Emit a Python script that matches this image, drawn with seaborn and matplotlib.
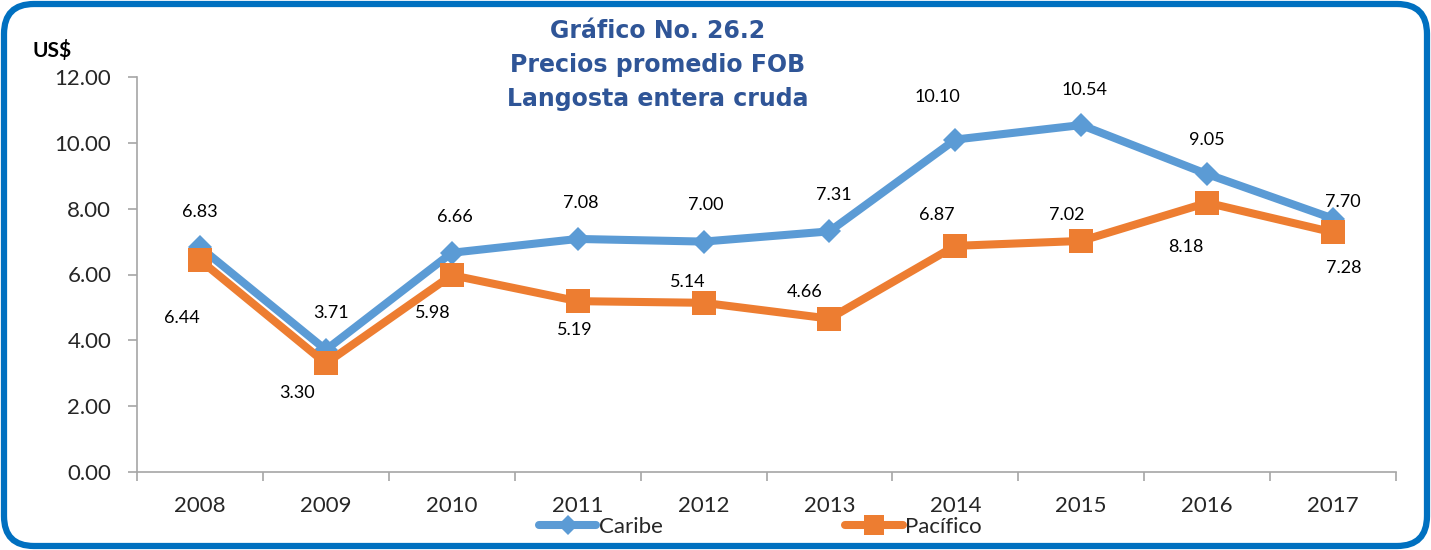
import numpy as np
import pandas as pd

import matplotlib as mpl

mpl.use('Agg')
import matplotlib.pyplot as plt
from matplotlib.patches import FancyBboxPatch
from matplotlib.lines import Line2D
import seaborn as sns

## Data
years = ['2008', '2009', '2010', '2011', '2012', '2013', '2014', '2015', '2016', '2017']
caribe = [6.83, 3.71, 6.66, 7.08, 7.00, 7.31, 10.10, 10.54, 9.05, 7.70]
pacifico = [6.44, 3.30, 5.98, 5.19, 5.14, 4.66, 6.87, 7.02, 8.18, 7.28]
y_ticks = [0, 2, 4, 6, 8, 10, 12]

# label offsets in pixels (dx, dy), dy positive = up
caribe_off = [(0, 35), (5, 37), (3, 36), (3, 36), (2, 37), (4, 36), (-18, 43), (3, 35), (0, 34), (10, 17)]
pacifico_off = [(-18, -58), (-29, -30), (-19, -38), (-3, -29), (-16, 21), (-25, 27), (-19, 31), (-15, 26), (-21, -44), (11, -36)]

BLUE = '#5B9BD5'
ORANGE = '#ED7D31'

sns.set_style('white')
plt.rcParams['font.family'] = ['Lato', 'DejaVu Sans']

df = pd.DataFrame({'x': np.arange(len(years)), 'Caribe': caribe, 'Pacífico': pacifico})

fig = plt.figure(figsize=(14.31, 5.5), dpi=100)
ax = fig.add_axes([137 / 1431, 1 - 472 / 550, (1396 - 137) / 1431, (472 - 77) / 550])

sns.lineplot(data=df, x='x', y='Caribe', ax=ax, color=BLUE, linewidth=5.8,
             marker='D', markersize=12, markeredgewidth=0)
sns.lineplot(data=df, x='x', y='Pacífico', ax=ax, color=ORANGE, linewidth=5.8,
             marker='s', markersize=17, markeredgewidth=0)

for i, v in enumerate(caribe):
    ax.annotate(f'{v:.2f}', (i, v), xytext=caribe_off[i], textcoords='offset pixels',
                ha='center', va='center', fontsize=13, color='black')
for i, v in enumerate(pacifico):
    ax.annotate(f'{v:.2f}', (i, v), xytext=pacifico_off[i], textcoords='offset pixels',
                ha='center', va='center', fontsize=13, color='black')

ax.set_xlim(-0.5, len(years) - 0.5)
ax.set_ylim(0, 12)
ax.set_yticks(y_ticks)
ax.set_yticklabels([f'{t:.2f}' for t in y_ticks], fontsize=16)
ax.set_xticks(np.arange(len(years)))
ax.set_xticklabels(years, fontsize=16)
ax.set_xticks(np.arange(len(years) + 1) - 0.5, minor=True)
ax.tick_params(axis='x', which='major', length=0, pad=17)
ax.tick_params(axis='x', which='minor', length=6.5, color='#A6A6A6', width=1.2, direction='out', bottom=True)
ax.tick_params(axis='y', length=6.5, color='#A6A6A6', width=1.2, direction='out', left=True, pad=12)
ax.set_xlabel('')
ax.set_ylabel('')
for s in ['top', 'right']:
    ax.spines[s].set_visible(False)
for s in ['left', 'bottom']:
    ax.spines[s].set_color('#A6A6A6')
    ax.spines[s].set_linewidth(1.2)
ax.patch.set_alpha(0)

# Title and unit
fig.text(658 / 1431, 1 - 65 / 550, 'Gráfico No. 26.2\nPrecios promedio FOB\nLangosta entera cruda',
         ha='center', va='center', fontsize=17, fontweight='bold', color='#2F5597',
         linespacing=1.55, family='DejaVu Sans')
fig.text(33 / 1431, 1 - 50 / 550, 'US$', ha='left', va='center', fontsize=15, fontweight='bold', color='black')

# Legend
handles = [Line2D([], [], color=BLUE, linewidth=5.8, marker='D', markersize=10, markeredgewidth=0),
           Line2D([], [], color=ORANGE, linewidth=5.8, marker='s', markersize=15, markeredgewidth=0)]
fig.legend(handles, ['Caribe', 'Pacífico'], loc='center', bbox_to_anchor=(760 / 1431, 1 - 527 / 550),
           ncol=2, frameon=False, fontsize=16, handlelength=2.6, handletextpad=0.1,
           columnspacing=8.2, borderpad=0)

# Rounded blue frame
frame = FancyBboxPatch((0.04, 0.04), 14.23, 5.42, boxstyle='round,pad=0,rounding_size=0.3',
                       transform=fig.dpi_scale_trans, facecolor='none', edgecolor='#0070C0',
                       linewidth=4.5)
fig.patches.append(frame)

fig.savefig('out.png', dpi=100)
